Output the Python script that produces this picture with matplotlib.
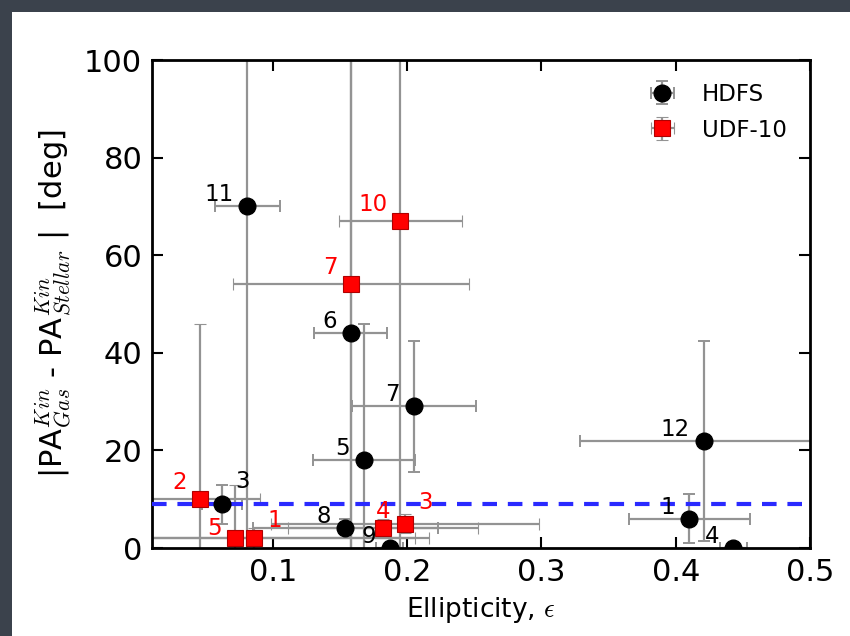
import matplotlib
matplotlib.use("Agg")
import matplotlib.pyplot as plt
from matplotlib.patches import Rectangle

# ---- data -------------------------------------------------------------
hdfs_ids = [1, 3, 4, 5, 6, 7, 8, 9, 11, 12]
hdfs_ell = [0.410, 0.062, 0.443, 0.168, 0.158, 0.205, 0.154, 0.187, 0.081, 0.421]
hdfs_ell_err = [0.045, 0.015, 0.010, 0.038, 0.027, 0.046, 0.069, 0.010, 0.024, 0.092]
hdfs_dpa = [6, 9, 0, 18, 44, 29, 4, 0, 70, 22]
hdfs_dpa_err = [5, 4, 1, 28, 60, 13.5, 2, 1, 80, 20.5]

udf_ids = [1, 2, 3, 4, 5, 7, 10]
udf_ell = [0.086, 0.0455, 0.1985, 0.182, 0.0716, 0.158, 0.195]
udf_ell_err = [0.120, 0.045, 0.100, 0.071, 0.145, 0.088, 0.046]
udf_dpa = [2, 10, 5, 4, 2, 54, 67]
udf_dpa_err = [2, 36, 2, 2, 11, 60, 70]

threshold = 9

x_ticks = [0.1, 0.2, 0.3, 0.4, 0.5]
y_ticks = [0, 20, 40, 60, 80, 100]

# label placement (pixels relative to the point, horizontal alignment)
default_hdfs_offset = (-14, 5, "right")
default_udf_offset = (-13, 10, "right")
hdfs_offsets = {3: (13, 16, "left")}
udf_offsets = {1: (13, 11, "left"), 3: (13, 15, "left"),
               4: (0, 10, "center"), 5: (-13, 3, "right")}

# ---- figure -----------------------------------------------------------
plt.rcParams["font.family"] = ["DejaVu Sans"]
plt.rcParams["mathtext.fontset"] = "cm"

W, H = 850, 636
fig = plt.figure(figsize=(W / 100, H / 100), dpi=100)
fig.patch.set_facecolor("#3b424c")
fig.add_artist(Rectangle((12 / W, 0), (W - 12) / W, (H - 12) / H,
                         transform=fig.transFigure, facecolor="white",
                         edgecolor="none", zorder=0))

ax = fig.add_axes([152 / W, (H - 548) / H, (810 - 152) / W, (548 - 60) / H])

err_kw = dict(ecolor="#939393", elinewidth=1.6, capsize=4, capthick=1.4)

h = ax.errorbar(hdfs_ell, hdfs_dpa, xerr=hdfs_ell_err, yerr=hdfs_dpa_err,
                fmt="o", color="black", ms=12, label="HDFS", **err_kw)
u = ax.errorbar(udf_ell, udf_dpa, xerr=udf_ell_err, yerr=udf_dpa_err,
                fmt="s", color="red", mec="#b00000", mew=0.8, ms=12,
                label="UDF-10", **err_kw)
h[0].set_zorder(5)
u[0].set_zorder(5)

ax.axhline(threshold, color="#2a2aff", lw=3, ls=(0, (3.5, 2.6)), zorder=4)

for i, x, y in zip(hdfs_ids, hdfs_ell, hdfs_dpa):
    dx, dy, ha = hdfs_offsets.get(i, default_hdfs_offset)
    ax.annotate(str(i), (x, y), xytext=(dx, dy), textcoords="offset pixels",
                ha=ha, va="baseline", fontsize=16.5, color="black", zorder=6)
for i, x, y in zip(udf_ids, udf_ell, udf_dpa):
    dx, dy, ha = udf_offsets.get(i, default_udf_offset)
    ax.annotate(str(i), (x, y), xytext=(dx, dy), textcoords="offset pixels",
                ha=ha, va="baseline", fontsize=16.5, color="red", zorder=6)

ax.set_xlim(0.01, 0.5)
ax.set_ylim(0, 100)
ax.set_xticks(x_ticks)
ax.set_xticklabels([f"{t:g}" for t in x_ticks])
ax.set_yticks(y_ticks)
ax.tick_params(direction="in", top=True, right=True, length=8, width=1.5,
               labelsize=22, pad=7)
for s in ax.spines.values():
    s.set_linewidth(2)

ax.set_xlabel(r"Ellipticity, $\epsilon$", fontsize=19, labelpad=6)
ax.set_ylabel(r"|PA$^{Kin}_{Gas}$ - PA$^{Kin}_{Stellar}$ |  [deg]",
              fontsize=22, labelpad=8)

leg = ax.legend(loc="upper right", frameon=False, numpoints=1, fontsize=16.5,
                handlelength=1.3, handletextpad=1.1, borderaxespad=0.6,
                labelspacing=0.55)

fig.savefig("out.png", dpi=100, facecolor=fig.get_facecolor())
